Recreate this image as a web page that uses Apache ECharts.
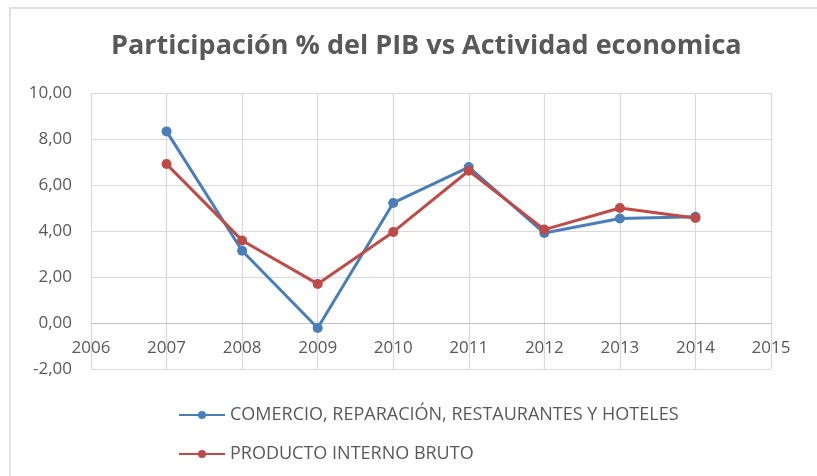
<!DOCTYPE html>
<html><head><meta charset="utf-8">
<script src="https://cdn.jsdelivr.net/npm/echarts@6/dist/echarts.min.js"></script>
<style>html,body{margin:0;padding:0;background:#fff}#c{width:817px;height:476px}</style>
</head><body><div id="c"></div>
<script>
const years = [2007, 2008, 2009, 2010, 2011, 2012, 2013, 2014];
const comercio = [8.33, 3.14, -0.22, 5.22, 6.78, 3.91, 4.54, 4.62];
const pib = [6.91, 3.59, 1.70, 3.96, 6.62, 4.06, 5.00, 4.57];
const seriesNames = ['COMERCIO, REPARACIÓN, RESTAURANTES Y HOTELES', 'PRODUCTO INTERNO BRUTO'];
const titleText = 'Participación % del PIB vs Actividad economica';

const chart = echarts.init(document.getElementById('c'));
const font = 'Open Sans, sans-serif';
const txt = '#595959';
const mk = (vals) => years.map((y, i) => [y, vals[i]]);
chart.setOption({
  animation: false,
  graphic: [{type: 'rect', shape: {x: 10, y: 8, width: 900, height: 600}, style: {fill: 'none', stroke: '#d9d9d9', lineWidth: 1.5}}],
  title: {text: titleText, left: 106, top: 28,
    textStyle: {fontFamily: font, fontSize: 27, fontWeight: 'bold', color: txt}},
  grid: {left: 91, right: 46, top: 93, bottom: 107},
  xAxis: {type: 'value', min: 2006, max: 2015, interval: 1,
    axisLine: {onZero: true, lineStyle: {color: '#bfbfbf', width: 1.2}},
    axisTick: {show: false},
    axisLabel: {color: txt, fontFamily: font, fontSize: 17, margin: -29, formatter: v => String(v)},
    splitLine: {show: true, lineStyle: {color: '#d9d9d9', width: 1.2}}},
  yAxis: {type: 'value', min: -2, max: 10, interval: 2,
    axisLine: {show: false}, axisTick: {show: false},
    axisLabel: {color: txt, fontFamily: font, fontSize: 17, margin: 19,
      formatter: v => v.toFixed(2).replace('.', ',')},
    splitLine: {show: true, lineStyle: {color: '#d9d9d9', width: 1.2}}},
  legend: {orient: 'vertical', left: 173, top: 401, itemGap: 21, itemWidth: 46, itemHeight: 10,
    textStyle: {color: txt, fontFamily: font, fontSize: 18},
    data: seriesNames},
  series: [
    {name: seriesNames[0], type: 'line', data: mk(comercio), symbol: 'circle', symbolSize: 10,
      lineStyle: {width: 3, color: '#4A7EBB'}, itemStyle: {color: '#4A7EBB'}},
    {name: seriesNames[1], type: 'line', data: mk(pib), symbol: 'circle', symbolSize: 10,
      lineStyle: {width: 3, color: '#BE4B48'}, itemStyle: {color: '#BE4B48'}}
  ]
});
</script></body></html>
